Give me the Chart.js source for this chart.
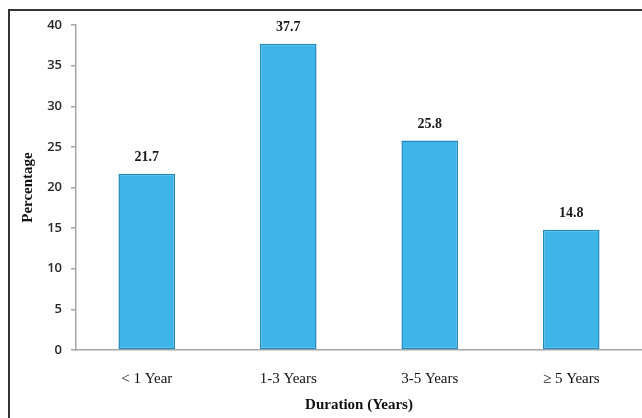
<!DOCTYPE html>
<html>
<head>
<meta charset="utf-8">
<script src="https://cdn.jsdelivr.net/npm/chart.js@4/dist/chart.umd.min.js"></script>
<style>
html,body{margin:0;padding:0;background:#fff;}
#wrap{width:642px;height:418px;position:relative;}
</style>
</head>
<body>
<div id="wrap"><canvas id="c" width="642" height="418"></canvas></div>
<script>
const categories = ["< 1 Year", "1-3 Years", "3-5 Years", "\u2265 5 Years"];
const percentages = [21.7, 37.7, 25.8, 14.8];
const yTicks = [0, 5, 10, 15, 20, 25, 30, 35, 40];

const frame = {
  id: 'frame',
  beforeDraw(chart) {
    const ctx = chart.ctx;
    ctx.save();
    ctx.fillStyle = '#fff';
    ctx.fillRect(0, 0, chart.width, chart.height);
    ctx.strokeStyle = '#333';
    ctx.lineWidth = 2;
    ctx.beginPath();
    ctx.moveTo(9, 430);
    ctx.lineTo(9, 10);
    ctx.lineTo(650, 10);
    ctx.stroke();
    ctx.restore();
  }
};

const valueLabels = {
  id: 'valueLabels',
  afterDatasetsDraw(chart) {
    const ctx = chart.ctx;
    const meta = chart.getDatasetMeta(0);
    ctx.save();
    ctx.font = 'bold 14px "Liberation Serif", "Times New Roman", serif';
    ctx.fillStyle = '#1a1a1a';
    ctx.textAlign = 'center';
    ctx.textBaseline = 'bottom';
    meta.data.forEach((bar, i) => {
      ctx.fillText(percentages[i].toFixed(1), bar.x, bar.y - 9);
    });
    ctx.restore();
  }
};

new Chart(document.getElementById('c'), {
  type: 'bar',
  data: {
    labels: categories,
    datasets: [{
      data: percentages,
      backgroundColor: '#3DB5E8',
      borderColor: '#2388BC',
      borderWidth: 1.5,
      borderSkipped: false,
      barPercentage: 0.4,
      categoryPercentage: 1.0
    }]
  },
  options: {
    responsive: false,
    animation: false,
    layout: { padding: { left: 10, top: 25, right: 0, bottom: 0 } },
    plugins: { legend: { display: false }, tooltip: { enabled: false } },
    scales: {
      x: {
        grid: { display: false },
        border: { display: true, color: '#a6a6a6', width: 1.5 },
        ticks: {
          color: '#111',
          padding: 12,
          font: { family: '"Liberation Serif", "Times New Roman", serif', size: 15 }
        },
        title: {
          display: true,
          text: 'Duration (Years)',
          color: '#111',
          padding: { top: 0, bottom: 4 },
          font: { family: '"Liberation Serif", "Times New Roman", serif', size: 15, weight: 'bold' }
        },
        afterFit(scale) { scale.height = 68; }
      },
      y: {
        min: 0,
        max: 40,
        afterBuildTicks(scale) { scale.ticks = yTicks.map(v => ({ value: v })); },
        grid: { display: true, drawOnChartArea: false, drawTicks: true, tickLength: 5, color: '#a6a6a6', lineWidth: 1.5 },
        border: { display: true, color: '#a6a6a6', width: 1.5 },
        ticks: {
          color: '#262626',
          padding: 9,
          font: { family: '"Open Sans", "Liberation Sans", sans-serif', size: 13, weight: '600' }
        },
        title: {
          display: true,
          text: 'Percentage',
          color: '#111',
          padding: { top: 9, bottom: 0 },
          font: { family: '"Liberation Serif", "Times New Roman", serif', size: 15, weight: 'bold' }
        },
        afterFit(scale) { scale.width = 66; }
      }
    }
  },
  plugins: [frame, valueLabels]
});
</script>
</body>
</html>
